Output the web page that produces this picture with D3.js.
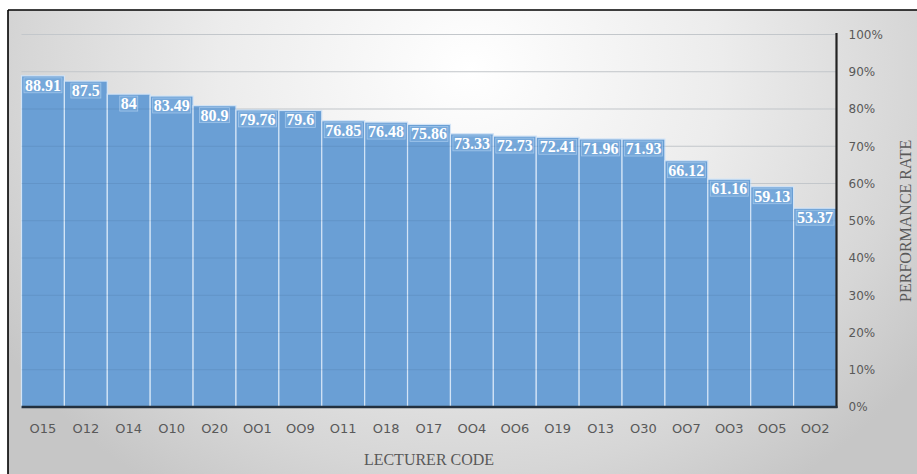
<!DOCTYPE html>
<html>
<head>
<meta charset="utf-8">
<script src="https://cdn.jsdelivr.net/npm/d3@7"></script>
<style>
  html, body { margin: 0; padding: 0; background: #fff; }
  svg { display: block; }
</style>
</head>
<body>
<svg id="chart" width="917" height="474"></svg>
<script>
// Lecturer codes, ordered by performance rate
const categories = ["O15","O12","O14","O10","O20","OO1","OO9","O11","O18","O17",
                    "OO4","OO6","O19","O13","O30","OO7","OO3","OO5","OO2"];
// Performance rate (%) per lecturer
const values = [88.91, 87.5, 84, 83.49, 80.9, 79.76, 79.6, 76.85, 76.48, 75.86,
                73.33, 72.73, 72.41, 71.96, 71.93, 66.12, 61.16, 59.13, 53.37];
// Right-hand axis ticks (percent)
const yTicks = [0, 10, 20, 30, 40, 50, 60, 70, 80, 90, 100];

const W = 917, H = 474;
const plot = { left: 21.5, right: 836.5, top: 34.5, bottom: 407 };

const svg = d3.select("#chart");
const defs = svg.append("defs");

// Soft grey radial backdrop, lightest near the top middle
const grad = defs.append("radialGradient")
  .attr("id", "bg").attr("gradientUnits", "userSpaceOnUse")
  .attr("cx", 470).attr("cy", 70).attr("r", 560)
  .attr("gradientTransform", "translate(470,70) scale(1,0.9) translate(-470,-70)");
grad.append("stop").attr("offset", 0).attr("stop-color", "#ffffff");
grad.append("stop").attr("offset", 0.45).attr("stop-color", "#ececec");
grad.append("stop").attr("offset", 0.8).attr("stop-color", "#d6d6d6");
grad.append("stop").attr("offset", 1).attr("stop-color", "#c6c6c6");

svg.append("rect").attr("x", 0).attr("y", 0).attr("width", W).attr("height", H).attr("fill", "#fff");
svg.append("rect").attr("x", 8).attr("y", 10).attr("width", W - 8).attr("height", H - 10)
  .attr("fill", "url(#bg)");

const x = d3.scaleBand().domain(categories).range([plot.left, plot.right]).padding(0);
const y = d3.scaleLinear().domain([0, 100]).range([plot.bottom, plot.top]);

const data = categories.map((c, i) => ({ code: c, value: values[i] }));

// Gridlines on the background
svg.append("g").selectAll("line").data(yTicks.filter(t => t > 0)).join("line")
  .attr("x1", plot.left).attr("x2", plot.right)
  .attr("y1", d => y(d)).attr("y2", d => y(d))
  .attr("stroke", "#d9d9d9").attr("stroke-width", 1);

// Bars
svg.append("g").selectAll("rect").data(data).join("rect")
  .attr("x", d => x(d.code))
  .attr("y", d => y(d.value))
  .attr("width", x.bandwidth())
  .attr("height", d => y(0) - y(d.value))
  .attr("fill", "#6a9fd5")
  .attr("stroke", "#d3e4f6")
  .attr("stroke-width", 1.2);

// Gridlines showing faintly through the bars
svg.append("g").selectAll("line").data(yTicks.filter(t => t > 0)).join("line")
  .attr("x1", plot.left).attr("x2", plot.right)
  .attr("y1", d => y(d)).attr("y2", d => y(d))
  .attr("stroke", "rgba(40,70,110,0.12)").attr("stroke-width", 1);

// Value labels at the top inside each bar
const lbl = svg.append("g").selectAll("g").data(data).join("g");
const lblText = lbl.append("text")
  .attr("x", d => x(d.code) + x.bandwidth() / 2)
  .attr("y", d => y(d.value) + 15)
  .attr("text-anchor", "middle")
  .attr("font-family", "'Liberation Serif', 'Times New Roman', serif")
  .attr("font-weight", "bold")
  .attr("font-size", 16)
  .attr("fill", "#ffffff")
  .text(d => d3.format("")(d.value));
lbl.each(function() {
  const g = d3.select(this);
  const b = g.select("text").node().getBBox();
  g.insert("rect", "text")
    .attr("x", b.x - 1).attr("y", b.y + 1)
    .attr("width", b.width + 2).attr("height", b.height - 2)
    .attr("fill", "rgba(140,185,230,0.35)")
    .attr("stroke", "rgba(200,225,250,0.55)")
    .attr("stroke-width", 0.8);
});

// Right-hand percentage axis
const yAxis = d3.axisRight(y).tickValues(yTicks).tickSize(0).tickPadding(12)
  .tickFormat(d => d + "%");
const ya = svg.append("g").attr("transform", `translate(${plot.right},0)`).call(yAxis);
ya.select(".domain").remove();
ya.selectAll("text")
  .attr("font-family", "'DejaVu Sans', sans-serif")
  .attr("font-size", 12)
  .attr("fill", "#595959");
svg.append("line")
  .attr("x1", plot.right).attr("x2", plot.right)
  .attr("y1", y(100) - 1.5).attr("y2", y(0) + 1)
  .attr("stroke", "#222").attr("stroke-width", 2.2);

// Bottom category axis
const xAxis = d3.axisBottom(x).tickSize(0).tickPadding(17);
const xa = svg.append("g").attr("transform", `translate(0,${plot.bottom})`).call(xAxis);
xa.select(".domain").remove();
xa.selectAll("text")
  .attr("font-family", "'DejaVu Sans', sans-serif")
  .attr("font-size", 13)
  .attr("fill", "#595959");
svg.append("line")
  .attr("x1", plot.left).attr("x2", plot.right + 1)
  .attr("y1", plot.bottom).attr("y2", plot.bottom)
  .attr("stroke", "#22303f").attr("stroke-width", 2.5);

// Axis titles
svg.append("text")
  .attr("x", (plot.left + plot.right) / 2).attr("y", 465)
  .attr("text-anchor", "middle")
  .attr("font-family", "'Liberation Serif', 'Times New Roman', serif")
  .attr("font-size", 16).attr("fill", "#595959")
  .text("LECTURER CODE");
svg.append("text")
  .attr("transform", `translate(911,${(plot.top + plot.bottom) / 2}) rotate(-90)`)
  .attr("text-anchor", "middle")
  .attr("font-family", "'Liberation Serif', 'Times New Roman', serif")
  .attr("font-size", 16).attr("fill", "#595959")
  .text("PERFORMANCE RATE");

// Frame edges
svg.append("line").attr("x1", 8).attr("x2", W).attr("y1", 10).attr("y2", 10)
  .attr("stroke", "#000").attr("stroke-width", 1.6);
svg.append("line").attr("x1", 8).attr("x2", 8).attr("y1", 10).attr("y2", H)
  .attr("stroke", "#000").attr("stroke-width", 1.6);
</script>
</body>
</html>
